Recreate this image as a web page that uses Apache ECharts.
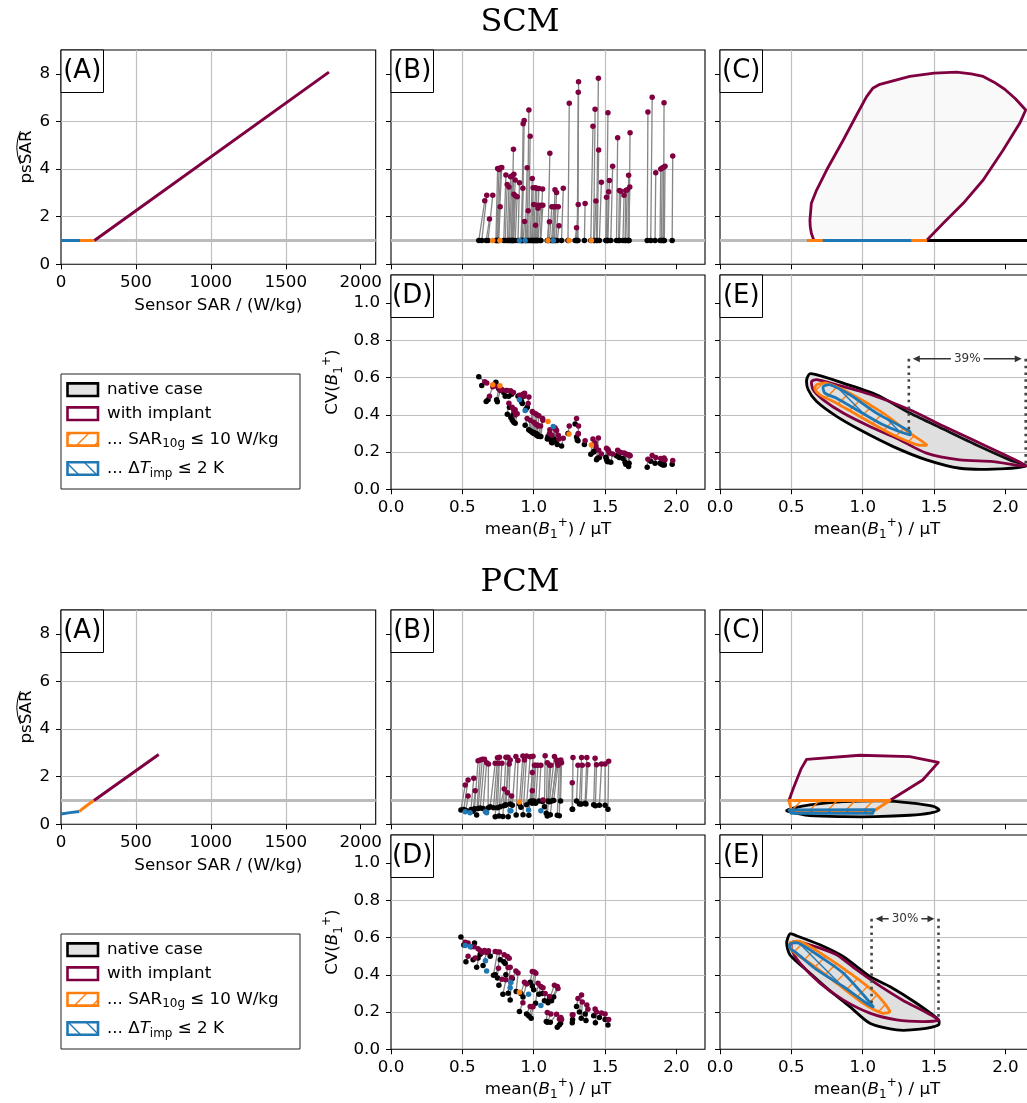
<!DOCTYPE html>
<html><head><meta charset="utf-8">
<script src="https://cdn.jsdelivr.net/npm/echarts@6/dist/echarts.min.js"></script>
<style>html,body{margin:0;padding:0;background:#fff}#c{width:1027px;height:1103px}</style>
</head><body><div id="c"></div>
<script>
// ---------------- tick labels ----------------
const sarTicks = [0, 500, 1000, 1500, 2000];
const psTicks = [0, 2, 4, 6, 8];
const meanTicks = [0, 0.5, 1.0, 1.5, 2.0];
const cvTicks = [0, 0.2, 0.4, 0.6, 0.8, 1.0];

// ---------------- SCM ----------------
// (A) sensor SAR [W/kg] vs psSAR
const scmA_blue = [[0, 1.0], [127, 1.0]];
const scmA_orange = [[127, 1.0], [223, 1.0]];
const scmA_implant = [[223, 1.0], [1788, 8.07]];
// per-case values: native mean(B1+), implant mean(B1+), implant psSAR, native CV, implant CV
const scmNativePsSAR = 1.0; // every native case normalised to 1
const scmNatMean = [0.615,0.636,0.667,0.680,0.735,0.740,0.745,0.750,0.755,0.790,
  0.800,0.815,0.825,0.830,0.840,0.845,0.855,0.850,0.860,0.870,
  0.890,0.910,0.915,0.920,0.925,0.940,0.945,0.955,0.965,0.975,
  0.985,0.990,1.000,1.000,1.010,1.015,1.020,1.025,1.030,1.045,
  1.050,1.100,1.095,1.110,1.125,1.130,1.140,1.145,1.155,1.165,
  1.195,1.240,1.290,1.300,1.305,1.310,1.355,1.400,1.420,1.425,
  1.440,1.445,1.460,1.505,1.510,1.515,1.520,1.540,1.580,1.595,
  1.600,1.625,1.640,1.645,1.660,1.665,1.668,1.795,1.820,1.850,
  1.885,1.895,1.905,1.910,1.915,1.970];
const scmImpMean = [0.657,0.671,0.690,0.713,0.747,0.757,0.769,0.776,0.765,0.805,
  0.814,0.826,0.838,0.849,0.861,0.858,0.870,0.861,0.872,0.884,
  0.900,0.924,0.926,0.933,0.936,0.954,0.961,0.966,0.975,0.990,
  0.996,1.000,1.013,1.013,1.025,1.022,1.030,1.036,1.048,1.062,
  1.064,1.113,1.110,1.127,1.141,1.155,1.149,1.160,1.172,1.177,
  1.207,1.249,1.300,1.312,1.312,1.314,1.360,1.415,1.430,1.436,
  1.453,1.455,1.474,1.510,1.520,1.525,1.530,1.553,1.588,1.600,
  1.610,1.633,1.645,1.655,1.665,1.673,1.675,1.800,1.830,1.855,
  1.890,1.900,1.910,1.913,1.920,1.974];
const scmImpPs = [2.67,2.90,1.90,2.90,4.02,3.98,4.05,4.07,2.42,3.75,
  3.35,3.25,3.68,3.72,3.78,4.83,3.54,2.94,2.88,2.84,
  3.43,3.19,5.90,6.04,1.80,4.06,2.25,6.48,5.38,3.60,
  3.22,2.51,1.64,3.22,2.48,3.18,2.35,3.18,2.48,3.16,
  2.48,4.66,1.79,2.42,2.42,2.42,3.13,3.02,2.42,1.62,
  3.19,6.76,1.54,2.51,7.23,7.67,2.55,5.80,6.51,2.66,
  7.81,4.80,3.45,2.82,6.36,3.05,3.52,4.12,5.31,3.10,
  3.07,2.90,3.10,3.13,3.74,3.25,5.52,6.40,7.02,3.85,
  4.00,4.04,4.08,6.78,4.12,4.55];
const scmNatCV = [0.604,0.557,0.471,0.480,0.575,0.480,0.470,0.550,0.540,0.520,
  0.500,0.403,0.500,0.440,0.385,0.510,0.400,0.370,0.360,0.355,
  0.500,0.490,0.470,0.460,0.500,0.344,0.430,0.440,0.320,0.314,
  0.310,0.305,0.300,0.305,0.300,0.300,0.290,0.295,0.285,0.283,
  0.283,0.283,0.270,0.270,0.251,0.250,0.270,0.260,0.260,0.240,
  0.233,0.300,0.350,0.280,0.265,0.260,0.240,0.188,0.200,0.205,
  0.158,0.165,0.170,0.172,0.160,0.150,0.148,0.145,0.180,0.175,
  0.170,0.165,0.145,0.135,0.130,0.122,0.140,0.118,0.150,0.140,
  0.140,0.135,0.130,0.140,0.130,0.134];
const scmImpCV = [0.577,0.570,0.500,0.550,0.550,0.550,0.540,0.535,0.530,0.530,
  0.530,0.462,0.529,0.440,0.430,0.520,0.427,0.420,0.400,0.405,
  0.505,0.510,0.505,0.500,0.515,0.380,0.460,0.495,0.370,0.418,
  0.412,0.360,0.350,0.405,0.345,0.400,0.340,0.395,0.340,0.380,
  0.370,0.319,0.300,0.290,0.330,0.320,0.330,0.315,0.290,0.270,
  0.274,0.340,0.380,0.297,0.300,0.340,0.260,0.270,0.250,0.230,
  0.275,0.210,0.190,0.220,0.213,0.204,0.195,0.190,0.210,0.200,
  0.197,0.195,0.190,0.187,0.185,0.182,0.180,0.161,0.182,0.170,
  0.165,0.162,0.160,0.168,0.158,0.154];
const scmOrangeMean = [0.713, 0.763, 1.100, 1.247, 1.404];
const scmOrangePs = [1.0, 1.0, 1.0, 1.0, 1.0];
const scmOrangeCV = [0.561, 0.556, 0.364, 0.297, 0.238];
const scmBlueMean = [0.900, 0.940, 1.137];
const scmBluePs = [1.0, 1.0, 1.0];
const scmBlueCV = [0.480, 0.423, 0.337];
// (C) hulls in mean(B1+) / psSAR
const scmC_native = [[0.61, 1.0], [2.16, 1.0]];
const scmC_implant = [[0.658,1.0],[0.640,1.30],[0.632,1.60],[0.630,1.86],[0.640,2.56],[0.677,3.12],[0.747,3.96],[0.864,5.22],[0.957,6.27],[1.027,7.04],[1.07,7.39],[1.12,7.56],[1.33,7.89],[1.50,8.03],[1.657,8.07],[1.76,8.0],[1.844,7.89],[1.92,7.65],[1.995,7.35],[2.07,6.95],[2.142,6.48],[2.10,5.92],[1.984,4.80],[1.844,3.54],[1.704,2.56],[1.564,1.72],[1.447,1.0]];
const scmC_orange = [[0.61, 1.0], [1.45, 1.0]];
const scmC_blue = [[0.72, 1.0], [1.34, 1.0]];
// (E) hulls in mean(B1+) / CV
const scmE_native = [[0.63,0.62],[0.607,0.588],[0.618,0.534],[0.677,0.471],[0.817,0.391],[0.98,0.319],[1.214,0.229],[1.447,0.158],[1.68,0.113],[1.914,0.108],[2.142,0.125],[2.03,0.158],[1.797,0.238],[1.564,0.323],[1.33,0.409],[1.097,0.507],[0.863,0.57],[0.70,0.61]];
const scmE_implant = [[0.642,0.579],[0.653,0.534],[0.723,0.48],[0.863,0.409],[1.05,0.337],[1.237,0.274],[1.447,0.194],[1.68,0.158],[1.914,0.149],[2.142,0.125],[2.03,0.172],[1.797,0.256],[1.564,0.34],[1.33,0.427],[1.05,0.51],[0.817,0.561],[0.677,0.588]];
const scmE_orange = [[0.677,0.561],[0.747,0.57],[0.91,0.516],[1.143,0.409],[1.33,0.301],[1.447,0.238],[1.377,0.240],[1.19,0.301],[0.98,0.391],[0.817,0.462],[0.70,0.507],[0.665,0.538]];
const scmE_blue = [[0.723,0.552],[0.77,0.561],[0.91,0.507],[1.097,0.409],[1.33,0.31],[1.33,0.292],[1.143,0.346],[0.957,0.427],[0.817,0.489],[0.735,0.516]];
const scmAnnoX = [1.323, 2.142], scmAnnoYBottom = [0.319, 0.125], scmAnnoY = 0.70, scmAnnoLabel = '39%';

// ---------------- PCM ----------------
const pcmA_blue = [[0, 0.43], [60, 0.49], [122, 0.54]];
const pcmA_orange = [[122, 0.54], [170, 0.78], [220, 1.0]];
const pcmA_implant = [[220, 1.0], [652, 2.93]];
const pcmNatMean = [0.490,0.510,0.525,0.560,0.575,0.585,0.600,0.610,0.625,0.645,
  0.680,0.695,0.718,0.730,0.746,0.756,0.765,0.784,0.790,0.800,
  0.805,0.821,0.835,0.850,0.877,0.900,0.910,0.925,0.950,0.966,
  0.975,0.982,0.990,1.000,1.013,1.036,1.060,1.075,1.088,1.095,
  1.100,1.110,1.116,1.125,1.140,1.165,1.179,1.188,1.270,1.272,
  1.300,1.320,1.333,1.360,1.366,1.420,1.432,1.460,1.500,1.520];
const pcmImpMean = [0.520,0.540,0.540,0.580,0.590,0.610,0.625,0.640,0.655,0.670,
  0.683,0.730,0.746,0.753,0.760,0.777,0.793,0.805,0.816,0.828,
  0.820,0.835,0.845,0.875,0.890,0.924,0.935,0.950,0.975,0.990,
  0.990,0.995,1.005,1.015,1.030,1.050,1.065,1.080,1.095,1.120,
  1.111,1.145,1.160,1.165,1.170,1.180,1.190,1.195,1.270,1.275,
  1.310,1.335,1.340,1.372,1.380,1.430,1.440,1.475,1.500,1.525];
const pcmNatPs = [0.60,0.62,0.58,0.62,0.55,0.65,0.39,0.66,0.68,0.66,
  0.68,0.74,0.70,0.32,0.70,0.35,0.74,0.33,0.78,0.80,
  0.82,0.32,0.85,0.80,0.39,0.85,0.72,0.40,0.82,0.38,
  0.95,0.98,0.88,0.98,0.88,0.98,0.96,0.74,0.46,0.35,
  0.98,0.95,0.40,0.98,1.00,0.38,0.36,0.98,0.63,0.63,
  0.98,0.85,0.85,0.88,0.85,0.82,0.78,0.80,0.80,0.63];
const pcmImpPs = [1.65,1.86,1.19,1.93,1.41,2.67,2.70,2.73,2.73,2.59,
  2.53,2.56,2.79,2.56,2.82,2.56,1.48,2.82,1.33,2.53,
  2.82,2.70,1.19,2.85,2.68,2.87,2.70,2.87,2.84,2.18,
  1.41,2.86,2.48,2.48,2.48,2.48,1.02,2.88,2.59,2.48,
  2.48,2.85,2.70,2.59,2.48,2.59,2.70,2.59,1.75,2.81,
  2.48,2.81,2.48,2.81,2.50,2.77,2.50,2.53,2.53,2.65];
const pcmNatCV = [0.602,0.560,0.470,0.550,0.480,0.570,0.440,0.490,0.510,0.450,
  0.520,0.500,0.398,0.400,0.382,0.344,0.480,0.296,0.470,0.460,
  0.400,0.301,0.265,0.380,0.310,0.203,0.300,0.280,0.190,0.179,
  0.360,0.167,0.340,0.320,0.247,0.296,0.300,0.260,0.149,0.145,
  0.250,0.270,0.145,0.260,0.280,0.118,0.131,0.140,0.143,0.160,
  0.230,0.200,0.167,0.190,0.154,0.180,0.143,0.170,0.160,0.131];
const pcmImpCV = [0.575,0.570,0.500,0.550,0.490,0.540,0.530,0.520,0.530,0.520,
  0.529,0.525,0.522,0.435,0.522,0.376,0.507,0.373,0.498,0.489,
  0.439,0.440,0.385,0.420,0.409,0.250,0.360,0.350,0.230,0.230,
  0.418,0.229,0.415,0.408,0.355,0.337,0.330,0.300,0.197,0.190,
  0.283,0.344,0.188,0.337,0.326,0.162,0.170,0.160,0.185,0.185,
  0.272,0.292,0.254,0.238,0.215,0.216,0.200,0.195,0.190,0.160];
const pcmOrangeMean = [0.900], pcmOrangePs = [0.94], pcmOrangeCV = [0.306];
const pcmBlueMean = [0.520, 0.554, 0.662, 0.670, 0.835, 0.840, 0.964, 1.050];
const pcmBluePs = [0.53, 0.49, 0.53, 0.49, 0.57, 0.57, 0.60, 0.57];
const pcmBlueCV = [0.557, 0.552, 0.475, 0.420, 0.330, 0.358, 0.296, 0.235];
const pcmC_native = [[0.467,0.57],[0.537,0.46],[0.63,0.36],[0.864,0.32],[1.09,0.32],[1.33,0.38],[1.47,0.47],[1.535,0.60],[1.49,0.76],[1.33,0.90],[1.14,0.98],[0.864,0.95],[0.63,0.82],[0.514,0.68]];
const pcmC_implant = [[0.483,1.0],[0.510,1.45],[0.537,1.86],[0.570,2.35],[0.607,2.73],[0.98,2.90],[1.33,2.84],[1.53,2.60],[1.42,1.86],[1.19,1.0]];
const pcmC_orange = [[0.483,1.0],[1.19,1.0],[1.08,0.57],[0.50,0.57]];
const pcmC_blue = [[0.483,0.60],[1.08,0.62],[1.07,0.46],[0.50,0.46]];
const pcmE_native = [[0.49,0.62],[0.467,0.57],[0.49,0.507],[0.63,0.409],[0.763,0.319],[0.91,0.229],[1.05,0.14],[1.237,0.104],[1.40,0.108],[1.531,0.131],[1.531,0.158],[1.377,0.247],[1.19,0.337],[1.05,0.391],[0.863,0.498],[0.70,0.561],[0.537,0.609]];
const pcmE_implant = [[0.502,0.573],[0.537,0.579],[0.70,0.543],[0.817,0.507],[0.957,0.427],[1.09,0.355],[1.277,0.265],[1.531,0.158],[1.424,0.149],[1.237,0.158],[1.05,0.194],[0.863,0.265],[0.70,0.355],[0.56,0.462],[0.502,0.534]];
const pcmE_orange = [[0.49,0.57],[0.56,0.579],[0.723,0.507],[0.91,0.409],[1.09,0.301],[1.19,0.203],[1.137,0.194],[1.003,0.247],[0.817,0.355],[0.63,0.462],[0.513,0.525]];
const pcmE_blue = [[0.49,0.566],[0.548,0.57],[0.70,0.498],[0.863,0.409],[1.073,0.229],[1.027,0.247],[0.863,0.337],[0.677,0.427],[0.537,0.516],[0.49,0.543]];
const pcmAnnoX = [1.062, 1.531], pcmAnnoYBottom = [0.229, 0.165], pcmAnnoY = 0.70, pcmAnnoLabel = '30%';

// ---------------- styling ----------------
const FONT = 'DejaVu Sans';
const FS = 16.7;
const MAROON = '#7f0040', ORANGE = '#ff7f0e', BLUE = '#1f77b4';
const REFGRAY = '#bcbcbc', STEM = '#868686', NATFILL = '#e3e3e3', IMPFILL = 'rgba(190,190,190,0.09)';

function hatch(color, dir) {
  const s = 18, c = document.createElement('canvas');
  c.width = s; c.height = s;
  const g = c.getContext('2d');
  g.strokeStyle = color; g.lineWidth = 1.4; g.beginPath();
  if (dir === '/') {
    g.moveTo(-2, s + 2); g.lineTo(s + 2, -2);
    g.moveTo(-2, 2); g.lineTo(2, -2);
    g.moveTo(s - 2, s + 2); g.lineTo(s + 2, s - 2);
  } else {
    g.moveTo(-2, -2); g.lineTo(s + 2, s + 2);
    g.moveTo(s - 2, -2); g.lineTo(s + 2, 2);
    g.moveTo(-2, s - 2); g.lineTo(2, s + 2);
  }
  g.stroke();
  return { image: c, repeat: 'repeat' };
}
const HATCH_O = hatch(ORANGE, '/');
const HATCH_B = hatch(BLUE, '\\');

const richName = {
  it: { fontStyle: 'italic', fontFamily: FONT, fontSize: FS, color: '#000' },
  sub: { fontFamily: FONT, fontSize: 12, verticalAlign: 'bottom', lineHeight: 12, color: '#000' },
  sup: { fontFamily: FONT, fontSize: 12, verticalAlign: 'top', lineHeight: 12, color: '#000' }
};
const nameStyle = { fontFamily: FONT, fontSize: FS, color: '#000', lineHeight: 24, rich: richName };

const grids = [], xAxes = [], yAxes = [], series = [], graphic = [];

function addGrid(left, top, width, height) {
  grids.push({ left, top, width, height, show: true, borderColor: '#000', borderWidth: 1.1,
    backgroundColor: 'rgba(0,0,0,0)', containLabel: false, outerBoundsMode: 'none' });
  return grids.length - 1;
}
function axis(gi, dim, min, max, interval, ticks, showLabels, fmt, extra) {
  return Object.assign({
    gridIndex: gi, type: 'value', min, max, interval,
    position: dim === 'x' ? 'bottom' : 'left',
    axisLine: { show: false },
    axisTick: { show: true, inside: false, length: 5, customValues: ticks, lineStyle: { color: '#000', width: 1 } },
    axisLabel: { show: showLabels, customValues: ticks, formatter: fmt, color: '#000', fontFamily: FONT, fontSize: FS, margin: dim === 'x' ? 10 : 11 },
    splitLine: { show: true, showMinLine: false, showMaxLine: false, lineStyle: { color: '#bfbfbf', width: 1.2 } }
  }, extra || {});
}
const f0 = v => String(v), f1 = v => v.toFixed(1);

function lineS(gi, pts, color, width, z) {
  return { type: 'line', xAxisIndex: gi, yAxisIndex: gi, data: pts, showSymbol: false, symbol: 'none',
    silent: true, z, lineStyle: { color, width, cap: 'butt' } };
}
function scatterS(gi, pts, color, z) {
  return { type: 'scatter', xAxisIndex: gi, yAxisIndex: gi, data: pts, symbol: 'circle', symbolSize: 5.5,
    silent: true, z, itemStyle: { color, opacity: 1 } };
}
function segS(gi, segs, z) {
  return { type: 'custom', xAxisIndex: gi, yAxisIndex: gi, data: segs, silent: true, z,
    renderItem: (params, api) => {
      const a = api.coord([api.value(0), api.value(1)]), b = api.coord([api.value(2), api.value(3)]);
      return { type: 'line', shape: { x1: a[0], y1: a[1], x2: b[0], y2: b[1] }, style: { stroke: STEM, lineWidth: 1.3 } };
    } };
}
function polyS(gi, pts, stroke, fill, z, smooth) {
  return { type: 'custom', xAxisIndex: gi, yAxisIndex: gi, data: [[0, 0]], silent: true, z,
    renderItem: (params, api) => {
      const P = pts.map(p => api.coord(p));
      if (P.length === 2) {
        return { type: 'polyline', shape: { points: P }, style: { stroke, lineWidth: 3.2, fill: null } };
      }
      return { type: 'polygon', shape: { points: P, smooth: smooth || 0 },
        style: { fill, stroke, lineWidth: 2.8, lineJoin: 'round' } };
    } };
}
function annoS(gi, xs, yTop, yBottoms, label) {
  return { type: 'custom', xAxisIndex: gi, yAxisIndex: gi, data: [[0, 0]], silent: true, z: 8,
    renderItem: (params, api) => {
      const L = api.coord([xs[0], yTop]), R = api.coord([xs[1], yTop]);
      const Lb = api.coord([xs[0], yBottoms[0]]), Rb = api.coord([xs[1], yBottoms[1]]);
      const dash = { stroke: '#444', lineWidth: 2.6, lineDash: [2.6, 4.2], fill: null };
      const y = L[1], a0 = L[0] + 4, a1 = R[0] - 4, ah = 7, aw = 3.4, mid = (a0 + a1) / 2;
      return { type: 'group', children: [
        { type: 'line', shape: { x1: L[0], y1: L[1], x2: Lb[0], y2: Lb[1] }, style: dash },
        { type: 'line', shape: { x1: R[0], y1: R[1], x2: Rb[0], y2: Rb[1] }, style: dash },
        { type: 'line', shape: { x1: a0 + ah - 1, y1: y, x2: a1 - ah + 1, y2: y }, style: { stroke: '#333', lineWidth: 1.5 } },
        { type: 'polygon', shape: { points: [[a0, y], [a0 + ah, y - aw], [a0 + ah, y + aw]] }, style: { fill: '#333' } },
        { type: 'polygon', shape: { points: [[a1, y], [a1 - ah, y - aw], [a1 - ah, y + aw]] }, style: { fill: '#333' } },
        { type: 'text', x: mid, y: y, style: { text: label, fontFamily: FONT, fontSize: 12, fill: '#333',
          align: 'center', verticalAlign: 'middle', textAlign: 'center', textVerticalAlign: 'middle',
          backgroundColor: '#fff', padding: [1, 3] } }
      ] };
    } };
}
function panelLabel(x, y, txt) {
  graphic.push({ type: 'rect', z: 60, shape: { x: x, y: y, width: 42.5, height: 42.5 },
    style: { fill: '#fff', stroke: '#000', lineWidth: 1 } });
  graphic.push({ type: 'text', z: 61, x: x + 21.25, y: y + 21.5,
    style: { text: txt, fontFamily: FONT, fontSize: 26, fill: '#000', textAlign: 'center', textVerticalAlign: 'middle' } });
}

function buildSection(S, dy) {
  const H = 214.3;
  graphic.push({ type: 'text', z: 60, x: 520, y: 23 + dy,
    style: { text: S.title, fontFamily: 'DejaVu Serif', fontSize: 32, fill: '#000', textAlign: 'center', textVerticalAlign: 'middle' } });

  // ---- A ----
  const gA = addGrid(61, 50 + dy, 314.7, H);
  xAxes.push(axis(gA, 'x', 0, 2100, 500, sarTicks, true, f0,
    { name: 'Sensor SAR / (W/kg)', nameLocation: 'middle', nameGap: 33, nameTextStyle: { fontFamily: FONT, fontSize: FS, color: '#000' } }));
  yAxes.push(axis(gA, 'y', 0, 9, 2, psTicks, true, f0));
  series.push(lineS(gA, [[0, 1], [2100, 1]], REFGRAY, 3, 1));
  series.push(lineS(gA, S.aBlue, BLUE, 3, 3));
  series.push(lineS(gA, S.aOrange, ORANGE, 3, 3));
  series.push(lineS(gA, S.aImp, MAROON, 3, 4));
  graphic.push({ type: 'text', z: 60, x: 27, y: 157 + dy, rotation: Math.PI / 2,
    style: { text: 'psSAR', fontFamily: FONT, fontSize: FS, fill: '#000', textAlign: 'center', textVerticalAlign: 'middle' } });
  graphic.push({ type: 'bezierCurve', z: 60,
    shape: { x1: 20.5, y1: 164 + dy, x2: 20.5, y2: 131 + dy, cpx1: 13, cpy1: 147.5 + dy },
    style: { stroke: '#000', lineWidth: 1, fill: null } });
  panelLabel(61, 50 + dy, '(A)');

  // ---- B ----
  const gB = addGrid(391, 50 + dy, 314, H);
  xAxes.push(axis(gB, 'x', 0, 2.2, 0.5, meanTicks, false, f1));
  yAxes.push(axis(gB, 'y', 0, 9, 2, psTicks, false, f0));
  const nPs = i => (Array.isArray(S.natPs) ? S.natPs[i] : S.natPs);
  series.push(lineS(gB, [[0, 1], [2.2, 1]], REFGRAY, 3, 1));
  series.push(segS(gB, S.natMean.map((x, i) => [x, nPs(i), S.impMean[i], S.impPs[i]]), 2));
  series.push(scatterS(gB, S.natMean.map((x, i) => [x, nPs(i)]), '#000', 3));
  series.push(scatterS(gB, S.impMean.map((x, i) => [x, S.impPs[i]]), MAROON, 4));
  series.push(scatterS(gB, S.oMean.map((x, i) => [x, S.oPs[i]]), ORANGE, 5));
  series.push(scatterS(gB, S.bMean.map((x, i) => [x, S.bPs[i]]), BLUE, 5));
  panelLabel(391, 50 + dy, '(B)');

  // ---- C ----
  const gC = addGrid(720, 50 + dy, 314, H);
  xAxes.push(axis(gC, 'x', 0, 2.2, 0.5, meanTicks, false, f1));
  yAxes.push(axis(gC, 'y', 0, 9, 2, psTicks, false, f0));
  series.push(lineS(gC, [[0, 1], [2.2, 1]], REFGRAY, 3, 1));
  series.push(polyS(gC, S.cNative, '#000', NATFILL, 2, S.cNativeSmooth));
  series.push(polyS(gC, S.cImp, MAROON, IMPFILL, 3, 0));
  series.push(polyS(gC, S.cOrange, ORANGE, HATCH_O, 4, 0));
  series.push(polyS(gC, S.cBlue, BLUE, HATCH_B, 5, 0));
  panelLabel(720, 50 + dy, '(C)');

  // ---- D ----
  const gD = addGrid(391, 275 + dy, 314, H);
  xAxes.push(axis(gD, 'x', 0, 2.2, 0.5, meanTicks, true, f1,
    { name: 'mean({it|B}{sub|1}{sup|+}) / µT', nameLocation: 'middle', nameGap: 26, nameTextStyle: nameStyle }));
  yAxes.push(axis(gD, 'y', 0, 1.15, 0.2, cvTicks, true, f1,
    { name: 'CV({it|B}{sub|1}{sup|+})', nameLocation: 'middle', nameRotate: 90, nameGap: 46, nameTextStyle: nameStyle }));
  series.push(segS(gD, S.natMean.map((x, i) => [x, S.natCV[i], S.impMean[i], S.impCV[i]]), 2));
  series.push(scatterS(gD, S.natMean.map((x, i) => [x, S.natCV[i]]), '#000', 3));
  series.push(scatterS(gD, S.impMean.map((x, i) => [x, S.impCV[i]]), MAROON, 4));
  series.push(scatterS(gD, S.oMean.map((x, i) => [x, S.oCV[i]]), ORANGE, 5));
  series.push(scatterS(gD, S.bMean.map((x, i) => [x, S.bCV[i]]), BLUE, 5));
  panelLabel(391, 275 + dy, '(D)');

  // ---- E ----
  const gE = addGrid(720, 275 + dy, 314, H);
  xAxes.push(axis(gE, 'x', 0, 2.2, 0.5, meanTicks, true, f1,
    { name: 'mean({it|B}{sub|1}{sup|+}) / µT', nameLocation: 'middle', nameGap: 26, nameTextStyle: nameStyle }));
  yAxes.push(axis(gE, 'y', 0, 1.15, 0.2, cvTicks, false, f1));
  series.push(polyS(gE, S.eNative, '#000', NATFILL, 2, 0.25));
  series.push(polyS(gE, S.eImp, MAROON, IMPFILL, 3, 0.25));
  series.push(polyS(gE, S.eOrange, ORANGE, HATCH_O, 4, 0.25));
  series.push(polyS(gE, S.eBlue, BLUE, HATCH_B, 5, 0.25));
  series.push(annoS(gE, S.annoX, S.annoY, S.annoYB, S.annoLabel));
  panelLabel(720, 275 + dy, '(E)');

  // ---- legend ----
  graphic.push({ type: 'rect', z: 60, shape: { x: 61, y: 374 + dy, width: 239, height: 115 },
    style: { fill: '#fff', stroke: '#222', lineWidth: 1 } });
  const rows = [
    { y: 389.7, fill: NATFILL, stroke: '#000', text: 'native case' },
    { y: 413.7, fill: '#fff', stroke: MAROON, text: 'with implant' },
    { y: 439.3, fill: HATCH_O, stroke: ORANGE, text: '... SAR{sub|10g} ≤ 10 W/kg' },
    { y: 468.5, fill: HATCH_B, stroke: BLUE, text: '... Δ{it|T}{sub|imp} ≤ 2 K' }
  ];
  rows.forEach(r => {
    graphic.push({ type: 'rect', z: 61, shape: { x: 67.5, y: r.y - 6.3 + dy, width: 30.5, height: 12.6 },
      style: { fill: r.fill, stroke: r.stroke, lineWidth: 2.6 } });
    graphic.push({ type: 'text', z: 61, x: 107, y: r.y + dy,
      style: { text: r.text, fontFamily: FONT, fontSize: FS, fill: '#000', textAlign: 'left', textVerticalAlign: 'middle',
        lineHeight: 22, rich: richName } });
  });
}

buildSection({
  title: 'SCM', aBlue: scmA_blue, aOrange: scmA_orange, aImp: scmA_implant,
  natMean: scmNatMean, impMean: scmImpMean, natPs: scmNativePsSAR, impPs: scmImpPs, natCV: scmNatCV, impCV: scmImpCV,
  oMean: scmOrangeMean, oPs: scmOrangePs, oCV: scmOrangeCV, bMean: scmBlueMean, bPs: scmBluePs, bCV: scmBlueCV,
  cNative: scmC_native, cImp: scmC_implant, cOrange: scmC_orange, cBlue: scmC_blue, cNativeSmooth: 0,
  eNative: scmE_native, eImp: scmE_implant, eOrange: scmE_orange, eBlue: scmE_blue,
  annoX: scmAnnoX, annoY: scmAnnoY, annoYB: scmAnnoYBottom, annoLabel: scmAnnoLabel
}, 0);
buildSection({
  title: 'PCM', aBlue: pcmA_blue, aOrange: pcmA_orange, aImp: pcmA_implant,
  natMean: pcmNatMean, impMean: pcmImpMean, natPs: pcmNatPs, impPs: pcmImpPs, natCV: pcmNatCV, impCV: pcmImpCV,
  oMean: pcmOrangeMean, oPs: pcmOrangePs, oCV: pcmOrangeCV, bMean: pcmBlueMean, bPs: pcmBluePs, bCV: pcmBlueCV,
  cNative: pcmC_native, cImp: pcmC_implant, cOrange: pcmC_orange, cBlue: pcmC_blue, cNativeSmooth: 0.3,
  eNative: pcmE_native, eImp: pcmE_implant, eOrange: pcmE_orange, eBlue: pcmE_blue,
  annoX: pcmAnnoX, annoY: pcmAnnoY, annoYB: pcmAnnoYBottom, annoLabel: pcmAnnoLabel
}, 560);

const chart = echarts.init(document.getElementById('c'), null, { renderer: 'canvas', width: 1027, height: 1103 });
chart.setOption({
  animation: false,
  backgroundColor: '#fff',
  grid: grids, xAxis: xAxes, yAxis: yAxes, series: series, graphic: graphic
});
</script></body></html>
